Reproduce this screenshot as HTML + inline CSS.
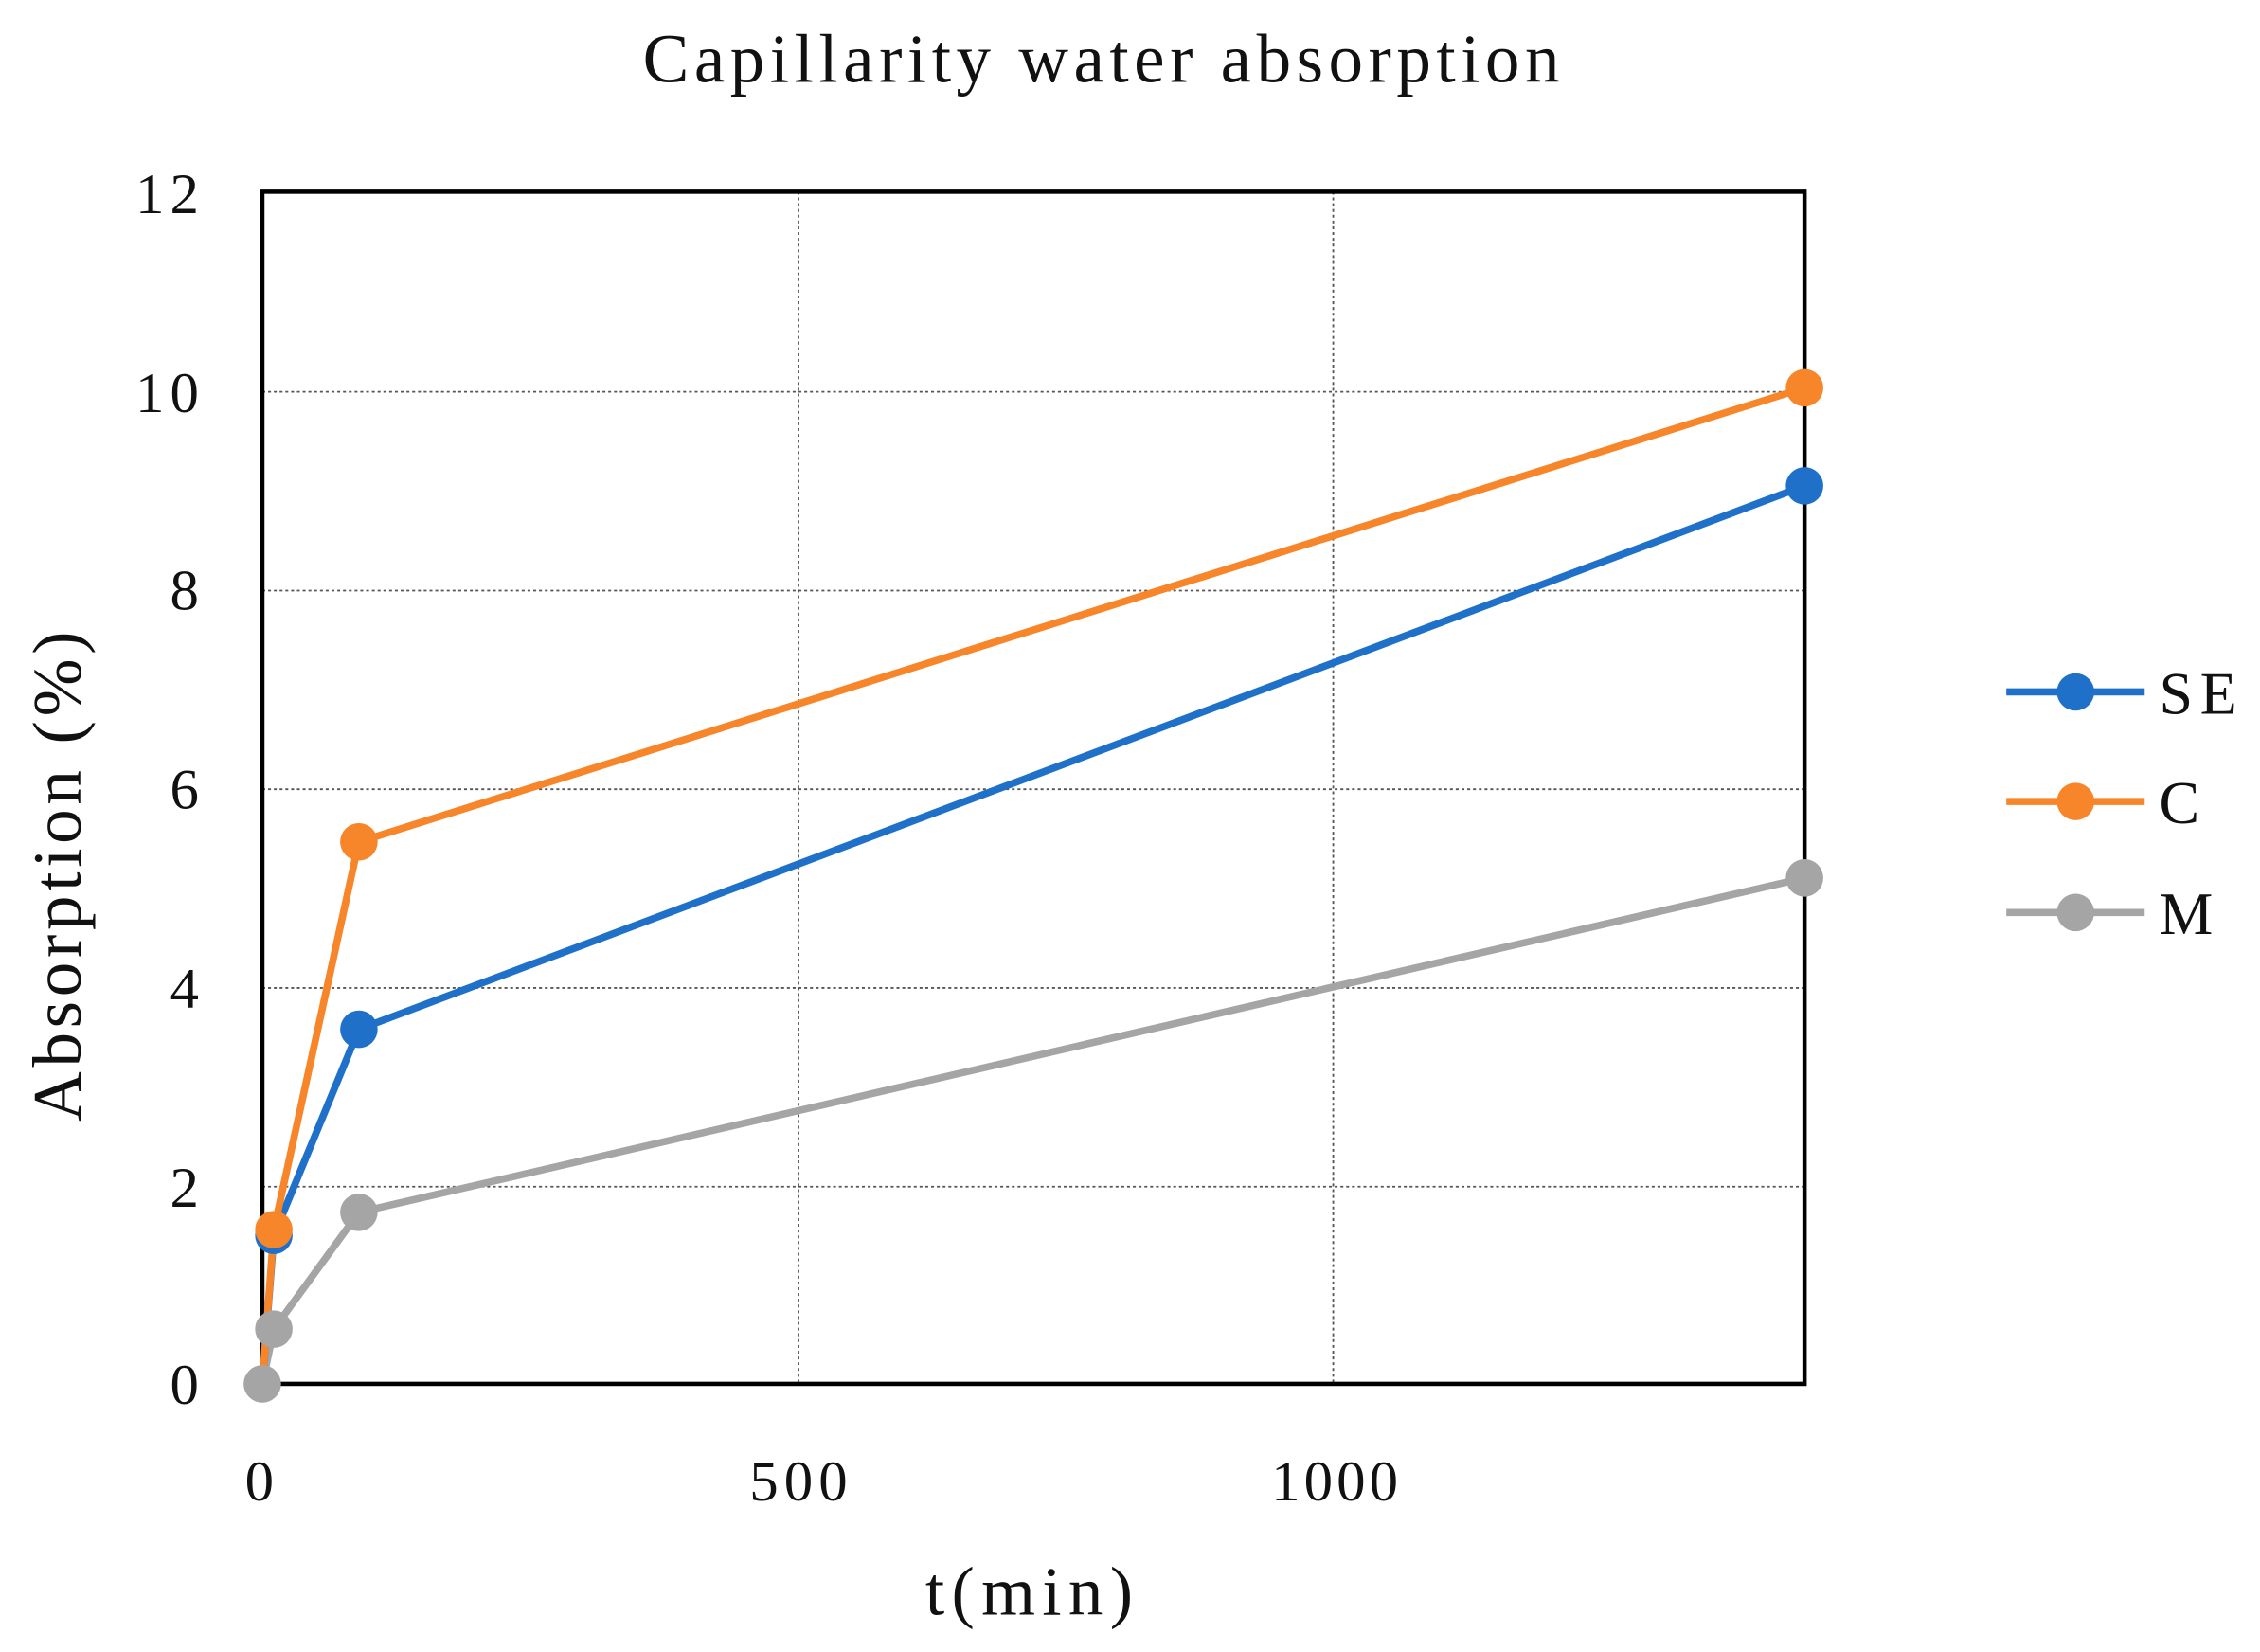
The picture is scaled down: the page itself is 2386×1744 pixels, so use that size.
<!DOCTYPE html>
<html><head><style>html,body{margin:0;padding:0;background:#fff}svg{display:block}</style></head><body>
<svg width="2386" height="1744" viewBox="0 0 1568 1146" preserveAspectRatio="none" xmlns="http://www.w3.org/2000/svg" font-family="Liberation Serif, serif">
<rect width="1568" height="1146" fill="#fff"/>
<g stroke="#555" stroke-width="1.2" stroke-dasharray="2,2">
<line x1="182" y1="271.8" x2="1252" y2="271.8"/>
<line x1="182" y1="409.7" x2="1252" y2="409.7"/>
<line x1="182" y1="547.5" x2="1252" y2="547.5"/>
<line x1="182" y1="685.3" x2="1252" y2="685.3"/>
<line x1="182" y1="823.2" x2="1252" y2="823.2"/>
<line x1="554" y1="133" x2="554" y2="960"/>
<line x1="925" y1="133" x2="925" y2="960"/>
</g>
<rect x="182" y="133" width="1070" height="827" fill="none" stroke="#000" stroke-width="3"/>
<g font-size="40" text-anchor="end" fill="#111">
<text x="138" y="974">0</text><text x="138" y="837">2</text><text x="138" y="699">4</text>
<text x="138" y="561">6</text><text x="138" y="423">8</text><text x="138" y="286" textLength="44">10</text><text x="138" y="148" textLength="44">12</text>
</g>
<g font-size="40" fill="#111">
<text x="170" y="1041">0</text><text x="520" y="1041" textLength="68">500</text><text x="882" y="1041" textLength="88">1000</text>
<text x="642" y="1120" font-size="48" textLength="144">t(min)</text>
<text x="446" y="57" font-size="48" textLength="636">Capillarity water absorption</text>
<text transform="translate(56,778) rotate(-90)" font-size="48" textLength="340">Absorption (%)</text>
</g>
<g fill="none" stroke-width="5" stroke-linejoin="round">
<polyline stroke="#a5a5a5" points="182,960 190,922 249,841 1252,609"/>
<polyline stroke="#1f70c8" points="182,960 190,857 249,714 1252,337"/>
<polyline stroke="#f7852a" points="182,960 190,853 249,584 1252,269"/>
</g>
<g fill="#a5a5a5"><circle cx="182" cy="960" r="13"/><circle cx="190" cy="922" r="13"/><circle cx="249" cy="841" r="13"/><circle cx="1252" cy="609" r="13"/></g>
<g fill="#1f70c8"><circle cx="190" cy="857" r="13"/><circle cx="249" cy="714" r="13"/><circle cx="1252" cy="337" r="13"/></g>
<g fill="#f7852a"><circle cx="190" cy="853" r="13"/><circle cx="249" cy="584" r="13"/><circle cx="1252" cy="269" r="13"/></g>
<circle cx="182" cy="960" r="12" fill="#a5a5a5"/>
<g stroke-width="5">
<line x1="1392" y1="480" x2="1488" y2="480" stroke="#1f70c8"/><circle cx="1440" cy="480" r="13" fill="#1f70c8"/>
<line x1="1392" y1="556" x2="1488" y2="556" stroke="#f7852a"/><circle cx="1440" cy="556" r="13" fill="#f7852a"/>
<line x1="1392" y1="633" x2="1488" y2="633" stroke="#a5a5a5"/><circle cx="1440" cy="633" r="13" fill="#a5a5a5"/>
</g>
<g font-size="42" fill="#111">
<text x="1498" y="495" textLength="54">SE</text><text x="1498" y="571">C</text><text x="1498" y="648">M</text>
</g>
</svg>
</body></html>
